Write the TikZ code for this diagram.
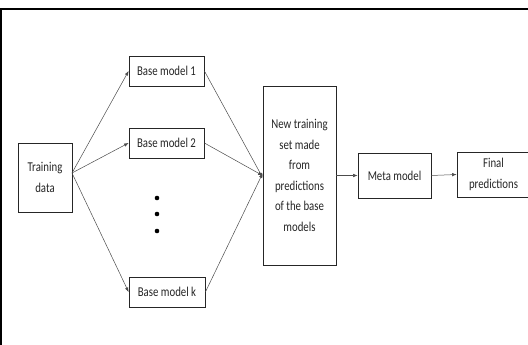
\documentclass[tikz,border=0pt]{standalone}
\usepackage{fontspec}
\setmainfont{Carlito}
\newfontfamily\labelfont[FakeStretch=0.8]{Carlito}
\usetikzlibrary{arrows.meta}
\begin{document}
\begin{tikzpicture}[x=1pt,y=-1pt,
  box/.style={draw=black!85, line width=0.8pt, inner sep=0pt, align=center, text=black!85, font=\labelfont\fontsize{13.5}{20.5}\selectfont},
  link/.style={draw=black!70, line width=0.5pt, -{Latex[length=4.5pt,width=3.5pt]}},
  frame/.style={line width=2pt, draw=black}]
  \useasboundingbox (0,0) rectangle (528,345);
  \fill[white] (0,0) rectangle (528,345);
  % page frame
  \draw[frame] (0,9) -- (528,9);
  \draw[line width=1.6pt] (0.8,9) -- (0.8,345);
  % nodes
  \node[box, minimum width=54pt, minimum height=69pt] (td) at (45,177.5) {Training\\data};
  \node[box, minimum width=75pt, minimum height=30pt] (b1) at (166.5,71) {Base model 1};
  \node[box, minimum width=75pt, minimum height=30pt] (b2) at (166.5,143) {Base model 2};
  \node[box, minimum width=76pt, minimum height=30pt] (bk) at (167,292) {Base model k};
  \node[box, minimum width=73pt, minimum height=179pt] (nt) at (299.5,175.5) {New training\\set made\\from\\predictions\\of the base\\models};
  \node[box, minimum width=73pt, minimum height=45pt] (mm) at (394.5,175.5) {Meta model};
  \node[box, minimum width=73pt, minimum height=45pt] (fp) at (493.5,174.5) {Final\\predictions};
  % vertical ellipsis between base models
  \foreach \yy/\nm in {198/d1,214/d2,231/d3}
    \fill (157,\yy) circle (2.3pt) coordinate (\nm);
  % connectors
  \coordinate (tdo) at (72,173);
  \draw[link] (tdo) -- (b1.west);
  \draw[link] (tdo) -- (b2.west);
  \draw[link] (tdo) -- (bk.west);
  \draw[link] (b1.east) -- ([yshift=-2pt]nt.west);
  \draw[link] (b2.east) -- (nt.west);
  \draw[link] (bk.east) -- ([yshift=2pt]nt.west);
  \draw[link] (nt.east) -- (mm.west);
  \draw[link] (mm.east) -- (fp.west);
\end{tikzpicture}
\end{document}
